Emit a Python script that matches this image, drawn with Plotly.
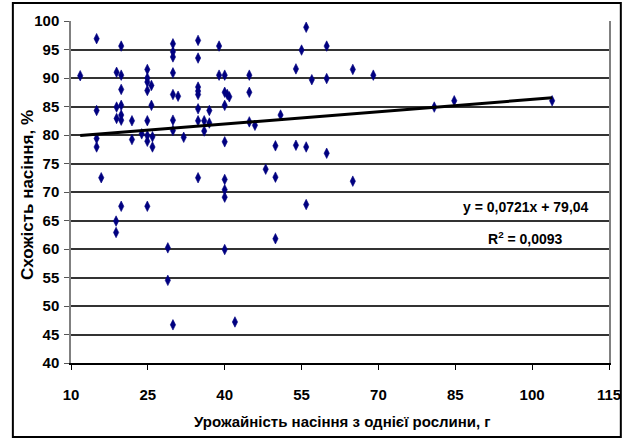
import plotly.graph_objects as go

# Data
yield_g = [
    11.8, 15.0, 15.0, 15.0, 15.0, 15.9, 19.8, 18.9, 19.8, 19.8,
    18.9, 19.8, 18.9, 19.8, 19.8, 21.9, 21.9, 23.8, 24.9, 24.9,
    24.9, 25.7, 24.9, 25.7, 24.9, 24.9, 24.9, 25.9, 25.9, 29.9,
    29.9, 29.9, 29.9, 29.9, 30.9, 29.9, 29.9, 32.0, 34.8, 34.8,
    34.8, 34.8, 34.8, 34.8, 37.0, 34.8, 36.0, 37.0, 36.0, 34.8,
    38.9, 38.9, 40.0, 40.0, 40.5, 40.9, 40.0, 40.0, 40.0, 40.0,
    40.0, 44.8, 44.8, 44.8, 45.9, 50.9, 49.9, 53.9, 55.0, 55.9,
    57.0, 59.9, 59.9, 65.0, 69.0, 53.9, 55.9, 59.9, 48.0, 49.9,
    65.0, 55.9, 49.9, 40.0, 42.0, 19.8, 18.8, 18.8, 24.9, 28.9,
    28.9, 29.9, 80.9, 84.8, 103.9,
]
germination_pct = [
    90.4, 96.9, 84.3, 79.4, 77.9, 72.5, 95.6, 91.0, 90.5, 88.0,
    84.9, 85.2, 82.9, 83.5, 82.6, 82.5, 79.2, 80.2, 91.5, 90.0,
    89.3, 88.7, 87.8, 85.2, 82.5, 79.9, 78.9, 79.7, 77.9, 96.0,
    94.6, 93.7, 90.9, 87.1, 86.8, 82.6, 80.8, 79.6, 96.6, 93.5,
    88.4, 87.7, 87.1, 84.6, 84.3, 82.5, 82.5, 82.1, 80.7, 72.5,
    95.6, 90.5, 90.5, 87.5, 87.1, 86.7, 85.2, 78.8, 72.2, 70.4,
    69.1, 90.5, 87.5, 82.3, 81.7, 83.5, 78.1, 91.6, 94.9, 98.9,
    89.7, 95.6, 89.9, 91.5, 90.5, 78.2, 77.9, 76.8, 74.0, 72.6,
    71.9, 67.8, 61.8, 59.9, 47.2, 67.5, 64.9, 62.9, 67.5, 60.2,
    54.5, 46.7, 84.9, 86.0, 86.0,
]
trend_slope = 0.0721
trend_intercept = 79.04
x_ticks = [10, 25, 40, 55, 70, 85, 100, 115]
y_ticks = list(range(40, 101, 5))

font_fam = "Liberation Sans, Arial, sans-serif"

tx = [min(yield_g), max(yield_g)]
ty = [trend_slope * v + trend_intercept for v in tx]

fig = go.Figure()
fig.add_trace(go.Scatter(
    x=yield_g, y=germination_pct, mode="markers",
    marker=dict(symbol="diamond-tall", size=7.5, color="#000080",
                line=dict(color="#000080", width=0.6)),
    showlegend=False, hoverinfo="x+y",
))
fig.add_trace(go.Scatter(
    x=tx, y=ty, mode="lines", line=dict(color="black", width=3),
    showlegend=False, hoverinfo="skip",
))

fig.update_layout(
    width=633, height=439,
    margin=dict(l=71, r=16, t=21, b=76),
    paper_bgcolor="white", plot_bgcolor="white",
    xaxis=dict(
        range=[10, 115], tickvals=x_ticks, ticktext=[str(v) for v in x_ticks],
        showgrid=False, zeroline=False,
        showline=True, linecolor="black", linewidth=2,
        ticks="outside", ticklen=5, tickcolor="black", tickwidth=1,
        ticklabelstandoff=12,
        tickfont=dict(family=font_fam, size=15, color="black", weight="bold"),
    ),
    yaxis=dict(
        range=[40, 100], tickvals=y_ticks, ticktext=[str(v) for v in y_ticks],
        showgrid=True, gridcolor="#333333", gridwidth=1.5, zeroline=False,
        showline=True, linecolor="#808080", linewidth=1.5, mirror=True,
        ticks="outside", ticklen=5, tickcolor="#555555", tickwidth=1,
        ticklabelstandoff=2,
        tickfont=dict(family=font_fam, size=15, color="black", weight="bold"),
    ),
    annotations=[
        dict(text="Урожайність насіння з однієї рослини, г", xref="paper", yref="paper",
             x=0.5055, y=-0.17, xanchor="center", yanchor="middle", showarrow=False,
             font=dict(family=font_fam, size=15, color="black", weight="bold")),
        dict(text="Схожість насіння, %", xref="paper", yref="paper",
             x=-0.0806, y=0.49, xanchor="center", yanchor="middle", showarrow=False,
             textangle=-90,
             font=dict(family=font_fam, size=17, color="black", weight="bold")),
        dict(text="y = 0,0721x + 79,04", xref="x", yref="y", x=98.8, y=67.3,
             xanchor="center", yanchor="middle", showarrow=False,
             font=dict(family=font_fam, size=14, color="black", weight="bold")),
        dict(text="R<sup>2</sup> = 0,0093", xref="x", yref="y", x=98.8, y=62.0,
             xanchor="center", yanchor="middle", showarrow=False,
             font=dict(family=font_fam, size=14, color="black", weight="bold")),
    ],
    shapes=[
        dict(type="rect", xref="paper", yref="paper",
             x0=(12 - 71) / 546, x1=(629 - 71) / 546,
             y0=(363 - 437) / 342, y1=1 + (21 - 3) / 342,
             line=dict(color="black", width=2), fillcolor="rgba(0,0,0,0)",
             layer="below"),
    ],
)

fig.write_html("out.html")
